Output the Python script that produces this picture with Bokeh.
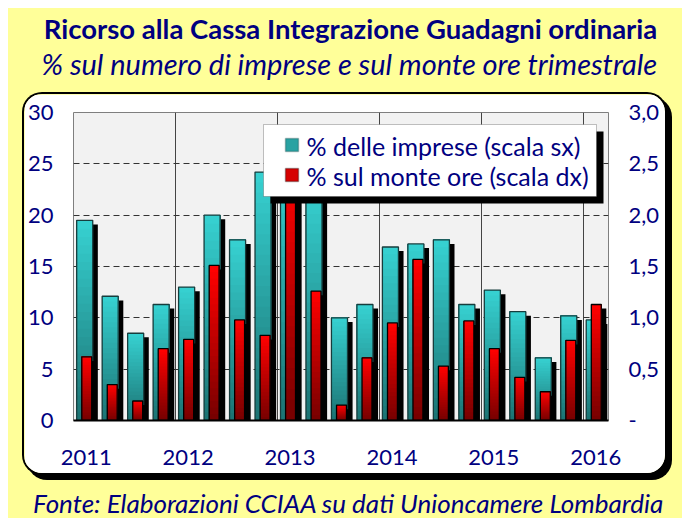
import numpy as np
from bokeh.plotting import figure
from bokeh.layouts import column
from bokeh.models import Range1d, LinearAxis, FixedTicker, BoxAnnotation, Label
from bokeh.embed import file_html
from bokeh.resources import INLINE

# ---------------- data ----------------
years = ["2011", "2012", "2013", "2014", "2015", "2016"]
quarters_per_year = 4
# % delle imprese (scala sx), 2011 T1 .. 2016 T1
imprese = [19.5, 12.1, 8.5, 11.3, 13.0, 20.0, 17.6, 24.2, 25.5, 23.0, 10.0,
           11.3, 16.9, 17.2, 17.6, 11.3, 12.7, 10.6, 6.1, 10.2, 9.8]
# % sul monte ore (scala dx)
monte_ore = [0.62, 0.35, 0.19, 0.70, 0.79, 1.51, 0.98, 0.83, 2.45, 1.26, 0.15,
             0.61, 0.95, 1.57, 0.53, 0.97, 0.70, 0.42, 0.28, 0.78, 1.13]
left_ticks = [0, 5, 10, 15, 20, 25, 30]
left_labels = ["0", "5", "10", "15", "20", "25", "30"]
right_ticks = [0, 0.5, 1, 1.5, 2, 2.5, 3]
right_labels = ["-", "0,5", "1,0", "1,5", "2,0", "2,5", "3,0"]
series_names = ["% delle imprese (scala sx)", "% sul monte ore (scala dx)"]
title_text = "Ricorso alla Cassa Integrazione Guadagni ordinaria"
subtitle_text = "% sul numero di imprese e sul monte ore trimestrale"
source_text = "Fonte: Elaborazioni CCIAA su dati Unioncamere Lombardia"

# ---------------- style ----------------
W, H = 674, 510
YELLOW = "#ffff99"
NAVY = "#000080"
FONT = "Lato"
TEAL_TOP, TEAL_BOT = (0x36, 0xd0, 0xd0), (0x1c, 0x74, 0x74)
RED_TOP, RED_BOT = (0xff, 0x00, 0x00), (0x78, 0x00, 0x00)
N_SLICES = 24
HEAD_H, MAIN_W, MAIN_H = 86, 641, 379
FOOT_H = H - HEAD_H - MAIN_H
MAIN_X = 16                             # main panel left offset inside yellow area
FL, FT, FW, FH = 48, 18, 536, 308       # frame inside main panel

n = len(imprese)
x = np.arange(n, dtype=float)


def text_fig(h):
    f = figure(width=W, height=h, output_backend="svg", toolbar_location=None,
               title=None, x_range=Range1d(0, W), y_range=Range1d(h, 0),
               x_axis_type=None, y_axis_type=None, min_border=0,
               min_border_left=0, min_border_right=0, min_border_top=0,
               min_border_bottom=0, frame_align=False,
               border_fill_color=None, background_fill_color=None,
               outline_line_color=None)
    f.grid.visible = False
    return f


def clabel(fig, **kw):
    fig.add_layout(Label(x_units="canvas", y_units="canvas", text_font=FONT,
                         text_color=NAVY, text_align="center",
                         text_baseline="middle", **kw))


head = text_fig(HEAD_H)
clabel(head, x=342, y=20, text=title_text, text_font_size="27.5px",
       text_font_style="bold")
clabel(head, x=341, y=55, text=subtitle_text, text_font_size="29px",
       text_font_style="italic")

foot = text_fig(FOOT_H)
clabel(foot, x=340, y=29, text=source_text, text_font_size="26px",
       text_font_style="italic", text_line_height=1.0)

p = figure(width=MAIN_W, height=MAIN_H, output_backend="svg",
           toolbar_location=None, title=None, frame_align=False,
           x_range=Range1d(-0.5, n - 0.5), y_range=Range1d(0, 30),
           min_border_left=FL, min_border_right=MAIN_W - FL - FW,
           min_border_top=FT, min_border_bottom=MAIN_H - FT - FH,
           border_fill_color="white", background_fill_color="#f2f2f2",
           outline_line_color="#7f7f7f",
           styles={"border-radius": "18px", "overflow": "hidden",
                   "box-shadow": "0 0 0 2px #000, 5px 5px 0 2px #000"})
p.margin = (0, 0, 0, MAIN_X)
p.extra_y_ranges = {"dx": Range1d(0, 3)}


def cbox(l, t, r, b, **kw):
    return BoxAnnotation(left=l, right=r, top=t, bottom=b,
                         left_units="canvas", right_units="canvas",
                         top_units="canvas", bottom_units="canvas", **kw)


def lerp(c0, c1, t):
    return "#%02x%02x%02x" % tuple(int(round(a + (b - a) * t)) for a, b in zip(c0, c1))


def gradient_bars(xc, width, vals, ctop, cbot, dx_shadow, dy_shadow, edge, rng=None):
    vals = np.asarray(vals, dtype=float)
    kw = {} if rng is None else {"y_range_name": rng}
    left = xc - width / 2
    right = xc + width / 2
    p.quad(left=left + dx_shadow, right=right + dx_shadow, bottom=0,
           top=np.maximum(vals - dy_shadow, 0), fill_color="black",
           line_color=None, **kw)
    for k in range(N_SLICES):
        t = k / (N_SLICES - 1)
        p.quad(left=left, right=right, bottom=vals * k / N_SLICES, top=vals,
               fill_color=lerp(cbot, ctop, t), line_color=None, **kw)
    p.quad(left=left, right=right, bottom=0, top=vals, fill_color=None,
           line_color=edge, line_width=1.3, **kw)


gradient_bars(x - 0.06, 0.63, imprese, TEAL_TOP, TEAL_BOT, 0.2, 0.4, "#173d3d")
gradient_bars(x + 0.02, 0.39, monte_ore, RED_TOP, RED_BOT, 0.2, 0.04, "#000000", "dx")

# axes
p.yaxis.ticker = FixedTicker(ticks=left_ticks)
p.yaxis.major_label_overrides = dict(zip(left_ticks, left_labels))
ra = LinearAxis(y_range_name="dx", ticker=FixedTicker(ticks=right_ticks),
                major_label_overrides=dict(zip(right_ticks, right_labels)))
p.add_layout(ra, "right")
year_pos = [i * quarters_per_year for i in range(len(years))]
p.xaxis.ticker = FixedTicker(ticks=year_pos)
p.xaxis.major_label_overrides = dict(zip(year_pos, years))

for ax in [p.yaxis[0], ra]:
    ax.axis_line_color = None
    ax.major_label_standoff = 20
for ax in [p.yaxis[0], ra, p.xaxis[0]]:
    ax.major_tick_line_color = None
    ax.minor_tick_line_color = None
    ax.major_tick_out = 0
    ax.major_tick_in = 0
    ax.major_label_text_color = NAVY
    ax.major_label_text_font = FONT
    ax.major_label_text_font_size = "22px"
p.xaxis.axis_line_color = "black"
p.xaxis.axis_line_width = 2
p.xaxis.major_label_standoff = 29

p.ygrid.ticker = FixedTicker(ticks=left_ticks[1:-1])
p.ygrid.grid_line_color = "#333333"
p.ygrid.grid_line_dash = "6 4"
p.ygrid.grid_line_width = 1
year_bounds = [i * quarters_per_year - 0.5 for i in range(1, len(years))]
p.xgrid.ticker = FixedTicker(ticks=year_bounds)
p.xgrid.grid_line_color = "#444444"
p.xgrid.grid_line_width = 1

# legend (custom box), canvas px of the main panel
LX0, LY0, LX1, LY1 = 239, 30, 572, 102
p.add_layout(cbox(LX0 + 7, LY0 + 7, LX1 + 7, LY1 + 7, fill_color="black",
                  fill_alpha=1, line_color=None))
p.add_layout(cbox(LX0, LY0, LX1, LY1, fill_color="white", fill_alpha=1,
                  line_color="#333333", line_width=1))
sw = [(lerp(TEAL_BOT, TEAL_TOP, 0.5), "#173d3d"), (lerp(RED_BOT, RED_TOP, 0.7), "black")]
for i, (name, (fc, lc)) in enumerate(zip(series_names, sw)):
    cy = LY0 + 21 + 30 * i
    p.add_layout(cbox(LX0 + 22, cy - 7, LX0 + 35, cy + 6, fill_color=fc,
                      fill_alpha=1, line_color=lc, line_width=1.5))
    p.add_layout(Label(x=LX0 + 43, y=cy, x_units="canvas", y_units="canvas",
                       text=name, text_font=FONT, text_font_size="25px",
                       text_color=NAVY, text_baseline="middle"))

layout = column(head, p, foot, spacing=0, width=W, height=H,
                styles={"background-color": YELLOW})
layout.margin = (8, 0, 0, 8)

open("out.html", "w").write(file_html(layout, INLINE))
